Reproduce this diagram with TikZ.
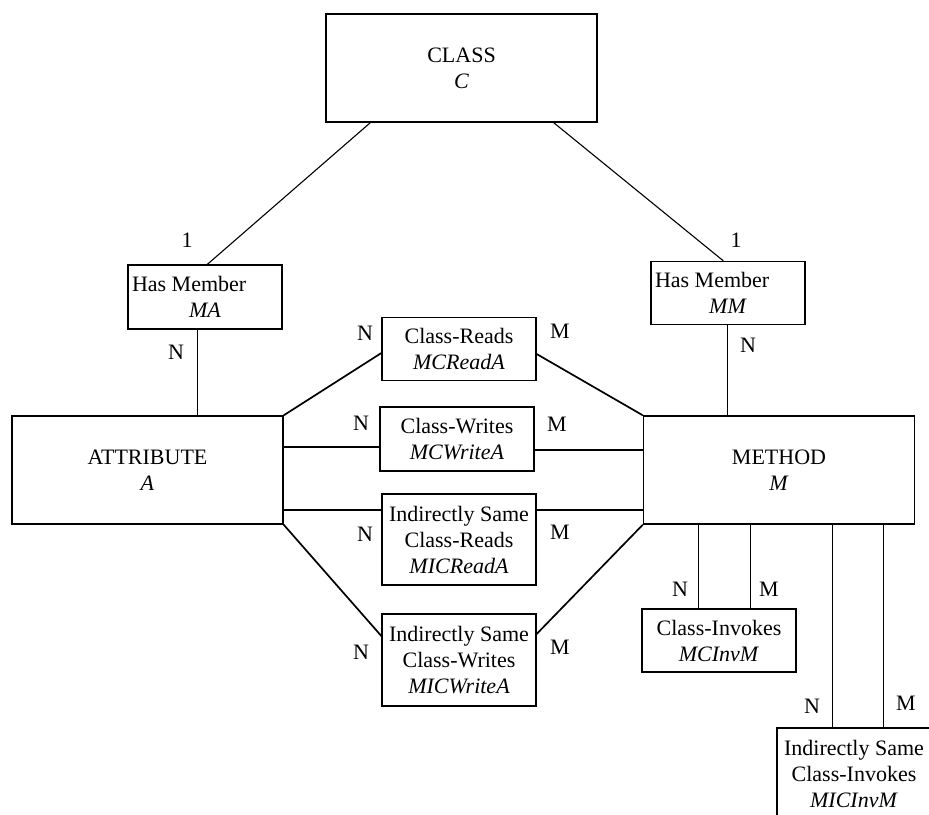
\documentclass[tikz,border=0pt]{standalone}
\usepackage{fontspec}
\setmainfont{Liberation Serif}
\usetikzlibrary{calc}
\begin{document}
\begin{tikzpicture}[x=1pt,y=-1pt,
  txt/.style={font=\fontsize{22}{26}\selectfont},
  ent/.style 2 args={draw, line width=1.3pt, minimum width=#1, minimum height=#2,
    inner sep=0pt, align=center, txt},
  card/.style={txt, inner sep=0pt},
  link/.style={line width=1.1pt},
  wide/.style={line width=1.7pt}]
\useasboundingbox (0,0) rectangle (929,814);

% entities and relationships
\node[ent={271pt}{108pt}] (C) at (461.5,68) {CLASS\\\textit{C}};
\node[ent={154pt}{64pt}, align=left] (MA) at (205,297) {Has Member\\\makebox[146pt]{\textit{MA}}};
\node[ent={154pt}{63pt}, align=left] (MM) at (728,293) {Has Member\\\makebox[146pt]{\textit{MM}}};
\node[ent={271pt}{108pt}] (A) at (147.5,470) {ATTRIBUTE\\\textit{A}};
\node[ent={271pt}{108pt}] (M) at (779,470) {METHOD\\\textit{M}};
\node[ent={154pt}{63pt}] (CR) at (459,349) {Class-Reads\\\textit{MCReadA}};
\node[ent={154pt}{64pt}] (CW) at (457,439) {Class-Writes\\\textit{MCWriteA}};
\node[ent={154pt}{91pt}] (ICR) at (459,539.5) {Indirectly Same\\Class-Reads\\\textit{MICReadA}};
\node[ent={154pt}{92pt}] (ICW) at (459,660) {Indirectly Same\\Class-Writes\\\textit{MICWriteA}};
\node[ent={154pt}{63pt}] (CI) at (719,640.5) {Class-Invokes\\\textit{MCInvM}};
\node[ent={154pt}{92pt}] (ICI) at (854,774) {Indirectly Same\\Class-Invokes\\\textit{MICInvM}};

% class membership
\draw[link] ($(C.south west)+(45,0)$) -- ($(MA.north west)+(80,0)$);
\draw[link] ($(C.south east)+(-44,0)$) -- ($(MM.north west)+(73,0)$);
\draw[link] ($(MA.south west)+(70,0)$) coordinate (ma1) -- (ma1 |- A.north);
\draw[link] ($(MM.south west)+(77,0)$) coordinate (mm1) -- (mm1 |- M.north);

% attribute access
\draw[wide] (A.north east) -- ($(CR.west)+(0,4)$);
\draw[wide] ($(CR.east)+(0,5)$) -- (M.north west);
\draw[wide] ($(CW.west)+(0,8)$) coordinate (cw1) -- (cw1 -| A.east);
\draw[wide] ($(CW.east)+(0,11)$) coordinate (cw2) -- (cw2 -| M.west);
\draw[wide] ($(ICR.west)+(0,-29.5)$) coordinate (icr1) -- (icr1 -| A.east);
\draw[wide] ($(ICR.east)+(0,-29.5)$) coordinate (icr2) -- (icr2 -| M.west);
\draw[wide] (A.south east) -- ($(ICW.west)+(0,-24)$);
\draw[wide] ($(ICW.east)+(0,-26)$) -- (M.south west);

% method invocation
\draw[link] ($(CI.north west)+(57,0)$) coordinate (ci1) -- (ci1 |- M.south);
\draw[link] ($(CI.north west)+(109,0)$) coordinate (ci2) -- (ci2 |- M.south);
\draw[link] ($(ICI.north west)+(56,0)$) coordinate (ici1) -- (ici1 |- M.south);
\draw[link] ($(ICI.north west)+(107,0)$) coordinate (ici2) -- (ici2 |- M.south);

% cardinalities
\node[card] (kma) at (187,240) {1};
\node[card] (kmm) at (736,240) {1};
\node[card] (nma) at (176,352) {N};
\node[card] (nmm) at (748,345) {N};
\node[card] (ncr) at (365,333) {N};
\node[card] (mcr) at (560,331) {M};
\node[card] (ncw) at (361,423) {N};
\node[card] (mcw) at (557,424) {M};
\node[card] (nicr) at (365,534) {N};
\node[card] (micr) at (560,532) {M};
\node[card] (nicw) at (361,652) {N};
\node[card] (micw) at (560,647) {M};
\node[card] (nci) at (680,589) {N};
\node[card] (mci) at (769,589) {M};
\node[card] (nici) at (812,706) {N};
\node[card] (mici) at (906,703) {M};
\end{tikzpicture}
\end{document}
